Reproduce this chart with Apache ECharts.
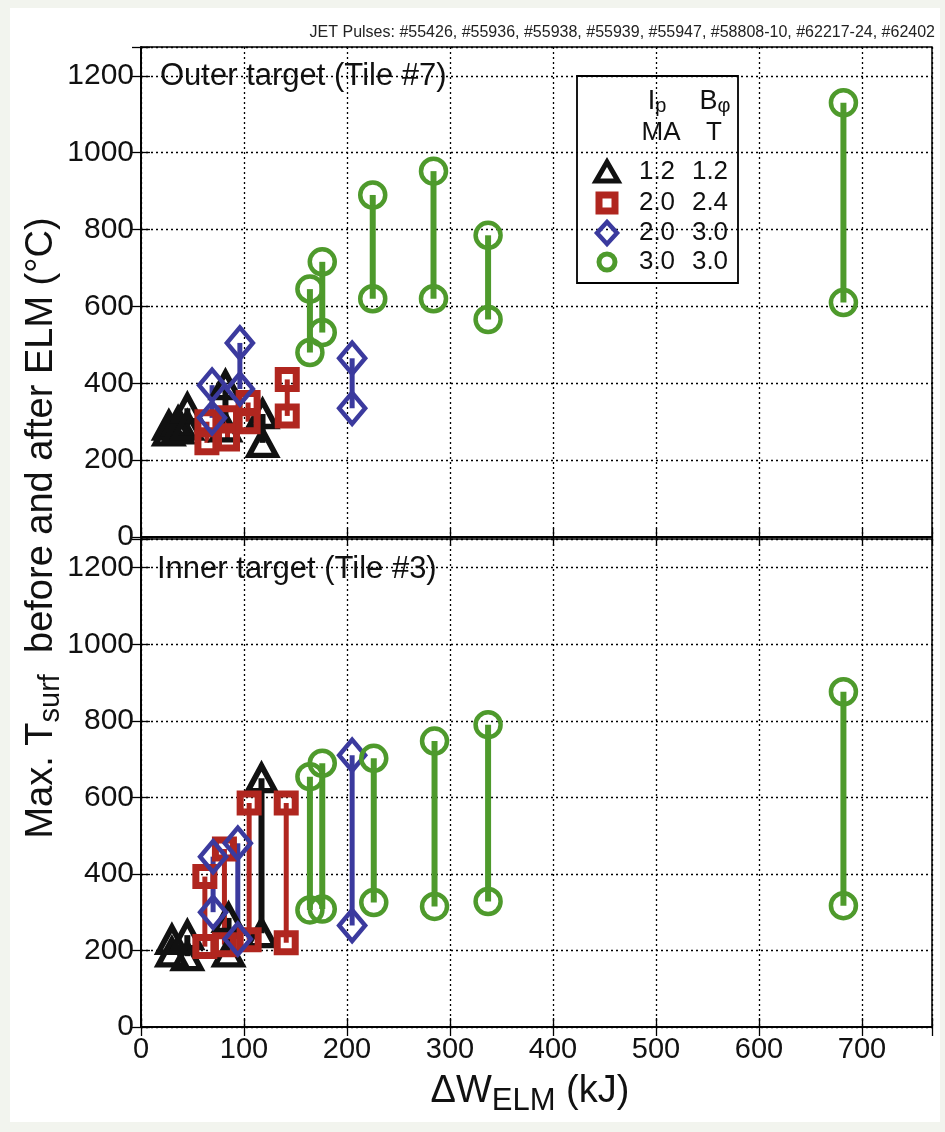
<!DOCTYPE html>
<html>
<head>
<meta charset="utf-8">
<script src="https://cdn.jsdelivr.net/npm/echarts@6/dist/echarts.min.js"></script>
<style>
html,body{margin:0;padding:0;background:#f2f4ee;}
#c{width:945px;height:1132px;}
</style>
</head>
<body>
<div id="c"></div>
<script>
// ---------- data (ΔW_ELM in kJ, T_surf in °C) ----------
// Outer target (Tile #7)
const outerBlackX    = [27, 36, 45, 82, 118];
const outerBlackHigh = [290, 300, 335, 395, 320];
const outerBlackLow  = [275, 280, 290, 285, 245];
const outerRedX      = [64, 84, 104, 142];
const outerRedHigh   = [300, 310, 350, 410];
const outerRedLow    = [245, 255, 300, 315];
const outerBlueX     = [69, 96, 205];
const outerBlueHigh  = [395, 505, 465];
const outerBlueLow   = [310, 385, 335];
const outerGreenX    = [164, 176, 225, 284, 337, 682];
const outerGreenHigh = [645, 716, 890, 952, 785, 1130];
const outerGreenLow  = [480, 532, 620, 620, 566, 610];
// Inner target (Tile #3)
const innerBlackX    = [30, 45, 85, 117];
const innerBlackHigh = [228, 240, 285, 650];
const innerBlackLow  = [195, 185, 195, 245];
const innerRedX      = [62, 81, 105, 141];
const innerRedHigh   = [393, 465, 585, 585];
const innerRedLow    = [210, 215, 228, 220];
const innerBlueX     = [70, 94, 205];
const innerBlueHigh  = [445, 480, 710];
const innerBlueLow   = [300, 230, 265];
const innerGreenX    = [164, 176, 226, 285, 337, 682];
const innerGreenHigh = [654, 689, 702, 747, 790, 876];
const innerGreenLow  = [306, 308, 325, 315, 328, 317];

const xTicks = [0, 100, 200, 300, 400, 500, 600, 700];
const yTicks = [0, 200, 400, 600, 800, 1000, 1200];
const legendRows = [['1.2', '1.2'], ['2.0', '2.4'], ['2.0', '3.0'], ['3.0', '3.0']];

// ---------- style ----------
const NARROW = "'Liberation Sans Narrow','Liberation Sans',Arial,sans-serif";
const SANS = "'Liberation Sans',Arial,sans-serif";
const C = {black:'#111111', red:'#b0261f', blue:'#3b3a9e', green:'#4e9a2c'};
const groups = [
  {key:'black', symbol:'triangle', size:[27,25], bw:5.5, lw:6},
  {key:'red', symbol:'rect', size:[18,18], bw:7, lw:5},
  {key:'blue', symbol:'diamond', size:[26,31], bw:4.5, lw:5},
  {key:'green', symbol:'circle', size:[25,25], bw:4.5, lw:6}
];
const panels = [
  {black:[outerBlackX,outerBlackHigh,outerBlackLow], red:[outerRedX,outerRedHigh,outerRedLow],
   blue:[outerBlueX,outerBlueHigh,outerBlueLow], green:[outerGreenX,outerGreenHigh,outerGreenLow]},
  {black:[innerBlackX,innerBlackHigh,innerBlackLow], red:[innerRedX,innerRedHigh,innerRedLow],
   blue:[innerBlueX,innerBlueHigh,innerBlueLow], green:[innerGreenX,innerGreenHigh,innerGreenLow]}
];

const XMAX = 768, YMAX = 1275;
const gridLine = {show:true, lineStyle:{color:'#000', type:[2,3], width:1.3}};
const tickIn = {show:true, inside:true, length:9, lineStyle:{color:'#000', width:1.3}};

function xAx(gi, pos, labels){
  return {type:'value', gridIndex:gi, position:pos, min:0, max:XMAX, interval:100,
    axisLine:{show:true, lineStyle:{color:'#000', width:1.5}},
    axisTick: tickIn,
    splitLine: pos==='bottom' ? gridLine : {show:false},
    axisLabel: labels ? {show:true, color:'#111', fontFamily:NARROW, fontSize:29, margin:8,
      formatter: v => xTicks.indexOf(v) >= 0 ? String(v) : ''} : {show:false}
  };
}
function yAx(gi, pos, labels){
  return {type:'value', gridIndex:gi, position:pos, min:0, max:YMAX, interval:200,
    axisLine:{show:true, lineStyle:{color:'#000', width:1.5}},
    axisTick: tickIn,
    splitLine: pos==='left' ? gridLine : {show:false},
    axisLabel: labels ? {show:true, color:'#111', fontFamily:SANS, fontSize:30, margin:7,
      formatter: v => yTicks.indexOf(v) >= 0 ? String(v) : ''} : {show:false}
  };
}

const series = [];
panels.forEach((p, pi) => {
  const ax = pi * 2;
  groups.forEach(g => {
    const [xs, hi, lo] = p[g.key];
    series.push({
      type:'custom', xAxisIndex:ax, yAxisIndex:ax, z:3,
      data: xs.map((x,i) => [x, hi[i], lo[i]]),
      encode:{x:0, y:[1,2]},
      renderItem:(params, api) => {
        const a = api.coord([api.value(0), api.value(1)]);
        const b = api.coord([api.value(0), api.value(2)]);
        return {type:'line', shape:{x1:a[0], y1:a[1], x2:b[0], y2:b[1]},
          style:{stroke:C[g.key], lineWidth:g.lw}};
      },
      silent:true
    });
    const pts = [];
    xs.forEach((x,i) => { pts.push([x, hi[i]]); pts.push([x, lo[i]]); });
    series.push({
      type:'scatter', xAxisIndex:ax, yAxisIndex:ax, z:4,
      symbol:g.symbol, symbolSize:g.size, data:pts,
      itemStyle:{color:'rgba(255,255,255,0)', borderColor:C[g.key], borderWidth:g.bw, opacity:1},
      silent:true
    });
  });
});

// legend graphics
const LX = 607, ROWY = [172, 203, 233, 262], COL1 = 657, COL2 = 710;
const legend = [
  {type:'rect', shape:{x:577, y:76, width:161, height:207}, style:{fill:'none', stroke:'#000', lineWidth:1.8}, z:10},
  {type:'text', x:COL1, y:102, style:{text:'{b|I}{s|p}', rich:{b:{fontSize:27, fontFamily:SANS, fill:'#111'}, s:{fontSize:20, fontFamily:SANS, fill:'#111', padding:[8,0,0,0]}}, align:'center', verticalAlign:'middle'}, z:10},
  {type:'text', x:COL2+5, y:102, style:{text:'{b|B}{s|φ}', rich:{b:{fontSize:27, fontFamily:SANS, fill:'#111'}, s:{fontSize:20, fontFamily:SANS, fill:'#111', padding:[8,0,0,0]}}, align:'center', verticalAlign:'middle'}, z:10},
  {type:'text', x:COL1+4, y:133, style:{text:'MA', fontSize:26, fontFamily:SANS, fill:'#111', align:'center', verticalAlign:'middle'}, z:10},
  {type:'text', x:COL2+4, y:133, style:{text:'T', fontSize:26, fontFamily:SANS, fill:'#111', align:'center', verticalAlign:'middle'}, z:10},
  {type:'polygon', shape:{points:[[LX,ROWY[0]-10],[LX-11,ROWY[0]+9],[LX+11,ROWY[0]+9]]}, style:{fill:'none', stroke:C.black, lineWidth:5, lineJoin:'miter'}, z:10},
  {type:'rect', shape:{x:LX-8, y:ROWY[1]-8, width:16, height:16}, style:{fill:'none', stroke:C.red, lineWidth:7}, z:10},
  {type:'polygon', shape:{points:[[LX,ROWY[2]-11],[LX+10,ROWY[2]],[LX,ROWY[2]+11],[LX-10,ROWY[2]]]}, style:{fill:'none', stroke:C.blue, lineWidth:4.5}, z:10},
  {type:'circle', shape:{cx:LX, cy:ROWY[3], r:8}, style:{fill:'none', stroke:C.green, lineWidth:5}, z:10}
];
legendRows.forEach((r, i) => {
  legend.push({type:'text', x:COL1, y:ROWY[i], style:{text:r[0], fontSize:26, fontFamily:SANS, fill:'#111', align:'center', verticalAlign:'middle'}, z:10});
  legend.push({type:'text', x:COL2, y:ROWY[i], style:{text:r[1], fontSize:26, fontFamily:SANS, fill:'#111', align:'center', verticalAlign:'middle'}, z:10});
});

const graphic = [
  {type:'rect', shape:{x:10, y:8, width:930, height:1114}, style:{fill:'#ffffff'}, z:-10, silent:true},
  {type:'text', right:10, top:25, style:{text:'JET Pulses: #55426, #55936, #55938, #55939, #55947, #58808-10, #62217-24, #62402', fontSize:16, fontFamily:NARROW, fill:'#222'}},
  {type:'text', x:160, y:76, style:{text:'Outer target (Tile #7)', fontSize:31, fontFamily:NARROW, fill:'#111', verticalAlign:'middle'}, z:10},
  {type:'text', x:157, y:569, style:{text:'Inner target (Tile #3)', fontSize:31, fontFamily:NARROW, fill:'#111', verticalAlign:'middle'}, z:10},
  {type:'text', x:42, y:528, rotation:Math.PI/2,
    style:{text:'{a|Max. T}{s|surf}{a|  before and after ELM (°C)}',
      rich:{a:{fontSize:38, fontFamily:NARROW, fill:'#111'}, s:{fontSize:29, fontFamily:NARROW, fill:'#111', padding:[18,0,0,0]}},
      align:'center', verticalAlign:'middle'}},
  {type:'text', x:530, y:1092,
    style:{text:'{a|ΔW}{s|ELM}{a| (kJ)}',
      rich:{a:{fontSize:38, fontFamily:NARROW, fill:'#111'}, s:{fontSize:31, fontFamily:NARROW, fill:'#111', padding:[18,0,0,0]}},
      align:'center', verticalAlign:'middle'}}
].concat(legend);

const chart = echarts.init(document.getElementById('c'), null, {renderer:'canvas'});
chart.setOption({
  backgroundColor:'transparent',
  animation:false,
  grid:[
    {left:141, top:47, width:791, height:490, show:true, borderColor:'#000', borderWidth:1.5, backgroundColor:'transparent'},
    {left:141, top:539, width:791, height:488, show:true, borderColor:'#000', borderWidth:1.5, backgroundColor:'transparent'}
  ],
  xAxis:[xAx(0,'bottom',false), xAx(0,'top',false), xAx(1,'bottom',true), xAx(1,'top',false)],
  yAxis:[yAx(0,'left',true), yAx(0,'right',false), yAx(1,'left',true), yAx(1,'right',false)],
  series: series,
  graphic: graphic
});
</script>
</body>
</html>
